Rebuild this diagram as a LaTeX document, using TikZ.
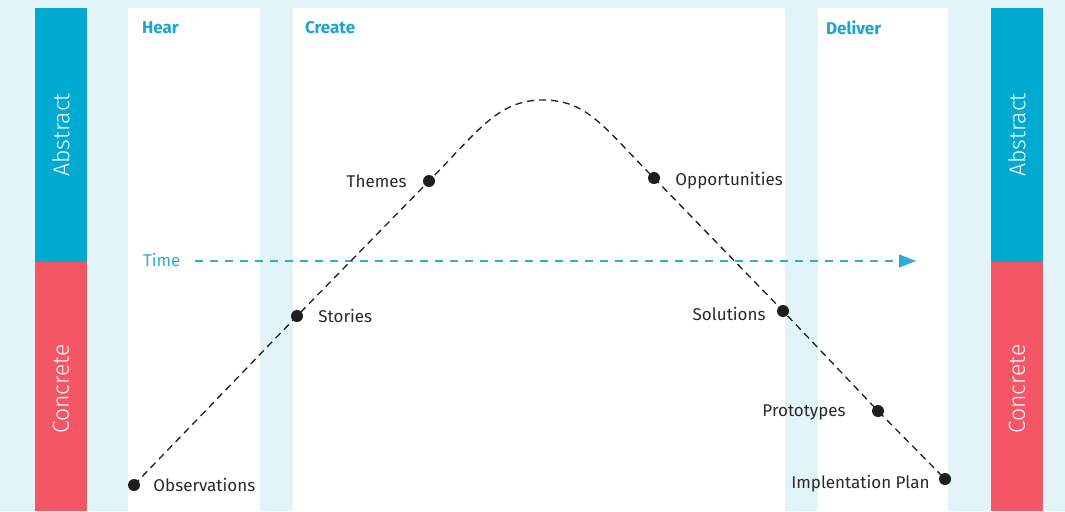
\documentclass[tikz,border=0pt]{standalone}
\usepackage{fontspec}
\setmainfont{Fira Sans}
\newfontfamily\barfont{Fira Sans Light}
\usetikzlibrary{arrows.meta,positioning}
\definecolor{bgblue}{HTML}{E3F4F9}
\definecolor{barblue}{HTML}{00A9D0}
\definecolor{barred}{HTML}{F45665}
\definecolor{headblue}{HTML}{1BA5D2}
\definecolor{timeblue}{HTML}{2FABD6}
\definecolor{dotgrey}{HTML}{1E1E1E}
\begin{document}
\begin{tikzpicture}[x=0.5pt,y=-0.5pt,font=\fontsize{8.5}{10}\selectfont,
  stagehead/.style={font=\fontsize{8.5}{10}\selectfont\bfseries,text=headblue,anchor=west},
  sidelabel/.style={rotate=90,text=white,font=\barfont\fontsize{11.5}{13}\selectfont},
  stop/.style={circle,fill=dotgrey,inner sep=0pt,minimum size=6pt},
  stoplabel/.style={text=dotgrey!95}]
\useasboundingbox[fill=bgblue] (0,0) rectangle (1065,511);
% stage columns
\fill[white] (128,8) rectangle (260,511); \fill[white] (293,8) rectangle (785,511); \fill[white] (818,8) rectangle (948,511);
\node[stagehead] (hear) at (135,28) {Hear}; \node[stagehead] (create) at (298,28) {Create}; \node[stagehead] (deliver) at (819,28) {Deliver};
% side bars
\fill[barblue] (35,8) rectangle (87,262); \fill[barred] (35,262) rectangle (87,511);
\fill[barblue] (991,8) rectangle (1043,262); \fill[barred] (991,262) rectangle (1043,511);
\node[sidelabel] (absL) at (61,135) {Abstract}; \node[sidelabel] (conL) at (61,389) {Concrete};
\node[sidelabel] (absR) at (1017,135) {Abstract}; \node[sidelabel] (conR) at (1017,389) {Concrete};
% time axis
\node[text=timeblue,anchor=west] (time) at (136,260) {Time};
\coordinate (tstart) at (195,261); \coordinate (tend) at (916,261);
\draw[timeblue,line width=0.6pt,dash pattern=on 4pt off 3.5pt,-{Triangle[length=8.5pt,width=6.5pt]}] (tstart) -- (tend);
% stops
\node[stop] (obs) at (134,485) {}; \node[stoplabel,right=3pt of obs] (obsL) {Observations};
\node[stop] (stories) at (297,316) {}; \node[stoplabel,right=4pt of stories] (storiesL) {Stories};
\node[stop] (themes) at (429,181) {}; \node[stoplabel,left=4.5pt of themes] (themesL) {Themes};
\coordinate (peak) at (543,100);
\node[stop] (opp) at (654,178) {}; \node[stoplabel,right=4pt of opp,yshift=-1.5pt] (oppL) {Opportunities};
\node[stop] (sol) at (783,311) {}; \node[stoplabel,left=2pt of sol,yshift=-1.5pt] (solL) {Solutions};
\node[stop] (proto) at (878,411) {}; \node[stoplabel,left=9.5pt of proto,yshift=-0.5pt] (protoL) {Prototypes};
\node[stop] (impl) at (945,479) {}; \node[stoplabel,left=1pt of impl,yshift=-2.5pt] (implL) {Implentation Plan};
\draw[dotgrey,line width=0.65pt,dash pattern=on 3.5pt off 2.5pt] (obs.center) -- (stories.center) -- (themes.center)
  .. controls (479,130) and (498,100) .. (peak) .. controls (588,100) and (605,129) .. (opp.center)
  -- (sol.center) -- (proto.center) -- (impl.center);
\end{tikzpicture}
\end{document}
